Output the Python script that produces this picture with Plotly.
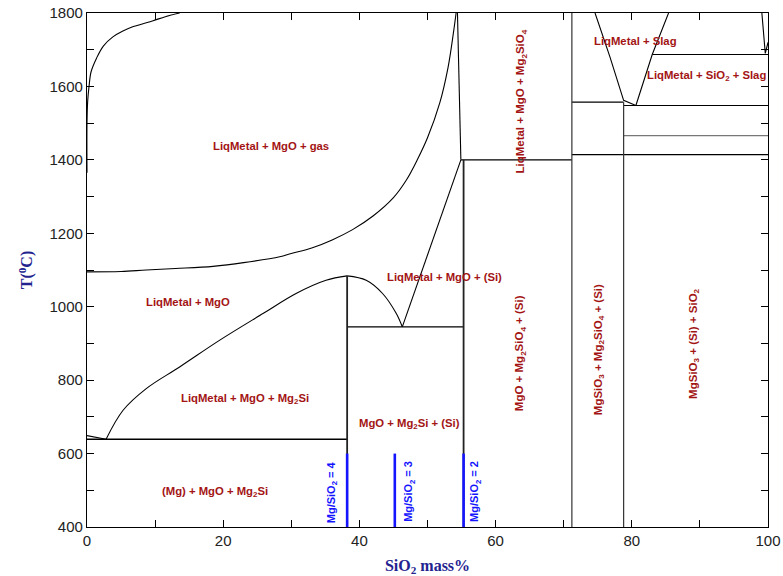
import plotly.graph_objects as go

# Phase boundaries of the Mg–SiO2 system (x: SiO2 mass%, T: °C)
gas_upper_x = [0, 0, 0.1, 0.3, 0.6, 1.4, 2.4, 3.8, 5.2, 6.8, 9.7, 11.5, 13.6]
gas_upper_T = [1365, 1500, 1560, 1600, 1640, 1677, 1710, 1735, 1750, 1763, 1779, 1790, 1800]

gas_lower_x = [0, 5, 8.7, 13, 18.5, 23, 28.3, 30, 33, 36, 39, 42, 45, 46.9, 48.5, 50, 51.8, 53.0, 53.8, 54.2]
gas_lower_T = [1095, 1096, 1100, 1104, 1110, 1120, 1136, 1145, 1160, 1182, 1210, 1247, 1297, 1345, 1400, 1460, 1555, 1650, 1745, 1800]

mg2si_liq_x = [2.8, 5.3, 8.7, 13.6, 19.5, 25.9, 30.7, 35.1, 38.2]
mg2si_liq_T = [639, 718, 777, 836, 909, 982, 1036, 1072, 1084]

mg_liq_x = [0, 2.8]
mg_liq_T = [649, 639]

mgo_liq_x = [38.2, 41, 43.4, 45.4, 46.3]
mgo_liq_T = [1084, 1072, 1036, 982, 945]

si_liq_x = [46.3, 54.9]
si_liq_T = [945, 1400]

near55_x = [54.9, 54.4]
near55_T = [1400, 1800]

slag_left_x = [74.6, 76.8, 78.8, 80.6]
slag_left_T = [1800, 1680, 1562, 1548]

slag_right_x = [80.6, 83.0, 85.4]
slag_right_T = [1548, 1687, 1800]

edge100_x = [99.1, 99.6, 100]
edge100_T = [1800, 1690, 1720]

# Invariant temperatures and compositions
T_eut_mg = 639
T_mgo_si = 945
T_mg2sio4 = 1400
T_sio2_low = 1414
T_sio2_mid = 1466
T_slag_low = 1548
T_mgsio3 = 1557
T_slag_sio2 = 1687
x_ratio4 = 38.2
x_ratio3 = 45.2
x_ratio2 = 55.3
x_mg2sio4 = 71.2
x_mgsio3 = 78.8

fig = go.Figure()


def boundary(xs, ts, color="black", width=1.1, shape="linear"):
    fig.add_trace(go.Scatter(x=xs, y=ts, mode="lines", showlegend=False, hoverinfo="skip",
                             line=dict(color=color, width=width, shape=shape)))


boundary(gas_upper_x, gas_upper_T, shape="spline")
boundary(gas_lower_x, gas_lower_T, shape="spline")
boundary(mg2si_liq_x, mg2si_liq_T, shape="spline")
boundary(mg_liq_x, mg_liq_T)
boundary(mgo_liq_x, mgo_liq_T, shape="spline")
boundary(si_liq_x, si_liq_T)
boundary(near55_x, near55_T)
boundary(slag_left_x, slag_left_T)
boundary(slag_right_x, slag_right_T)
boundary(edge100_x, edge100_T)

# Horizontal invariant lines
boundary([0, x_ratio4], [T_eut_mg, T_eut_mg], width=1.4)
boundary([x_ratio4, x_ratio2], [T_mgo_si, T_mgo_si], width=1.4)
boundary([54.9, x_mg2sio4], [T_mg2sio4, T_mg2sio4], width=1.4)
boundary([x_mg2sio4, 100], [T_sio2_low, T_sio2_low], width=1.2)
boundary([x_mgsio3, 100], [T_sio2_mid, T_sio2_mid], color="#777777", width=1.4)
boundary([x_mgsio3, 100], [T_slag_low, T_slag_low], width=1.2)
boundary([x_mg2sio4, x_mgsio3], [T_mgsio3, T_mgsio3], width=1.2)
boundary([83.0, 100], [T_slag_sio2, T_slag_sio2], width=1.2)

# Vertical compound lines
boundary([x_ratio4, x_ratio4], [400, 1084], color="#222222", width=1.8)
boundary([x_ratio2, x_ratio2], [400, T_mg2sio4], color="#222222", width=1.8)
boundary([x_mg2sio4, x_mg2sio4], [400, 1800], color="#333333", width=1.2)
boundary([x_mgsio3, x_mgsio3], [400, T_mgsio3], color="#333333", width=1.2)

# Mg/SiO2 reference compositions
for xr in [x_ratio4, x_ratio3, x_ratio2]:
    boundary([xr, xr], [400, 600], color="#1414ff", width=2.6)

red = "#a31515"
blue = "#1414ff"
sans = "Liberation Sans, Arial, sans-serif"

phase_labels = [
    ("<b>LiqMetal + MgO + gas</b>", 27.0, 1438, 0),
    ("<b>LiqMetal + MgO</b>", 14.8, 1012, 0),
    ("<b>LiqMetal + MgO + Mg<sub>2</sub>Si</b>", 23.2, 748, 0),
    ("<b>(Mg) + MgO + Mg<sub>2</sub>Si</b>", 18.8, 495, 0),
    ("<b>LiqMetal + MgO + (Si)</b>", 52.5, 1081, 0),
    ("<b>MgO + Mg<sub>2</sub>Si + (Si)</b>", 47.3, 680, 0),
    ("<b>LiqMetal + MgO + Mg<sub>2</sub>SiO<sub>4</sub></b>", 63.8, 1560, -90),
    ("<b>MgO + Mg<sub>2</sub>SiO<sub>4</sub> + (Si)</b>", 63.7, 873, -90),
    ("<b>MgSiO<sub>3</sub> + Mg<sub>2</sub>SiO<sub>4</sub> + (Si)</b>", 75.2, 882, -90),
    ("<b>MgSiO<sub>3</sub> + (Si) + SiO<sub>2</sub></b>", 89.2, 900, -90),
    ("<b>LiqMetal + Slag</b>", 80.6, 1724, 0),
    ("<b>LiqMetal + SiO<sub>2</sub> + Slag</b>", 90.9, 1628, 0),
]
for text, x, y, ang in phase_labels:
    size = 11.3 if ang == 0 else 11.5
    fig.add_annotation(x=x, y=y, text=text, showarrow=False, textangle=ang,
                       font=dict(family=sans, size=size, color=red))

ratio_labels = [
    ("<b>Mg/SiO<sub>2</sub> = 4</b>", 35.9, 496),
    ("<b>Mg/SiO<sub>2</sub> = 3</b>", 47.3, 496),
    ("<b>Mg/SiO<sub>2</sub> = 2</b>", 57.0, 496),
]
for text, x, y in ratio_labels:
    fig.add_annotation(x=x, y=y, text=text, showarrow=False, textangle=-90,
                       font=dict(family=sans, size=11, color=blue))

title_font = dict(family="Liberation Serif, Times New Roman, serif", size=16, color="#23238f")
tick_font = dict(family=sans, size=15, color="#222222")

fig.update_layout(
    width=783, height=576,
    margin=dict(l=87, r=15, t=13, b=49),
    paper_bgcolor="white", plot_bgcolor="white",
    xaxis=dict(range=[0, 100], dtick=20, tick0=0, ticks="inside", ticklen=7, tickcolor="black",
               showline=True, linecolor="black", linewidth=1.2, mirror="ticks", automargin=False,
               showgrid=False, zeroline=False, tickfont=tick_font,
               minor=dict(dtick=10, ticks="inside", ticklen=7, tickcolor="black", showgrid=False),
               title=dict(text="<b>SiO<sub>2</sub> mass%</b>", font=title_font, standoff=14)),
    yaxis=dict(range=[400, 1800], dtick=200, tick0=400, ticks="inside", ticklen=7, tickcolor="black",
               showline=True, linecolor="black", linewidth=1.2, mirror="ticks", automargin=False,
               showgrid=False, zeroline=False, tickfont=tick_font,
               minor=dict(dtick=100, ticks="inside", ticklen=7, tickcolor="black", showgrid=False),
               title=dict(text="<b>T(<sup>0</sup>C)</b>", font=title_font, standoff=12)),
)

fig.write_html("out.html")
